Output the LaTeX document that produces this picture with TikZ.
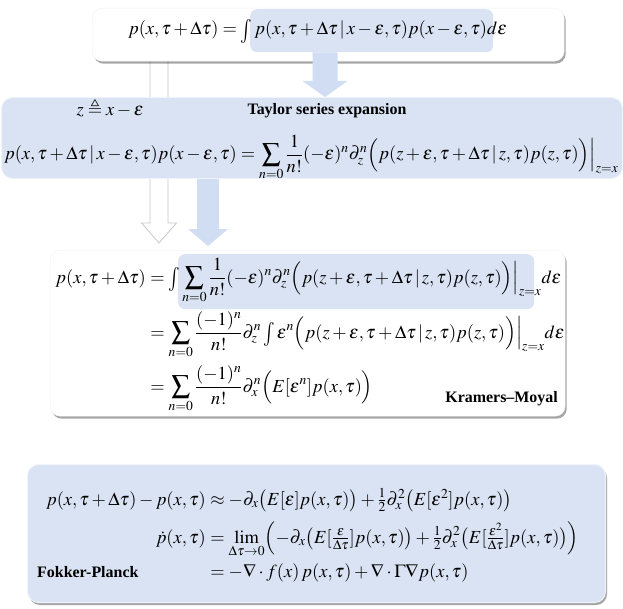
\documentclass[tikz,border=0pt]{standalone}
\usepackage{amsmath,amssymb}
\usepackage{mathptmx}
\usepackage[no-math]{fontspec}
\setmainfont{Liberation Serif}
\usetikzlibrary{calc,shadows}
\newcommand{\myint}{\mathop{\raisebox{-0.12em}{\scalebox{1.05}[1.3]{$\int$}}}\nolimits}
\definecolor{boxblue}{RGB}{218,227,243}
\definecolor{arrowblue}{RGB}{208,221,242}
\definecolor{rimgray}{RGB}{200,200,200}
\tikzset{
  whitebox/.style={rounded corners=10bp, fill=white, draw=gray!12, inner sep=0,
    drop shadow={shadow xshift=1.5bp, shadow yshift=-2.5bp, opacity=0.35, fill=black}},
  bluebox/.style={rounded corners=11bp, fill=boxblue, draw=white!60!boxblue, line width=1bp, inner sep=0},
  blueshadowbox/.style={bluebox, drop shadow={shadow xshift=1.5bp, shadow yshift=-2.5bp, opacity=0.35, fill=black}},
  hlbox/.style={rounded corners=7bp, fill=boxblue, inner sep=0},
  eq/.style={inner sep=0, font=\fontsize{18.5}{22}\selectfont},
  lbl/.style={inner sep=0, font=\fontsize{16}{19}\selectfont\bfseries},
  hollow/.style={draw=rimgray, fill=white, line width=0.8bp, line join=miter},
  solidarrow/.style={fill=arrowblue, draw=none},
}
\begin{document}
\begin{tikzpicture}[x=1bp,y=-1bp]
\useasboundingbox (0,0) rectangle (623,609);
% hollow arrow (behind boxes)
\coordinate (wa) at (159,61);
\coordinate (wb) at (159,243);
\draw[hollow] ($(wa)+(-9,0)$) -- ($(wb)+(-9,-20)$) -- ($(wb)+(-17.5,-20)$) -- (wb)
   -- ($(wb)+(17.5,-20)$) -- ($(wb)+(9,-20)$) -- ($(wa)+(9,0)$);
% top box
\node[whitebox, anchor=north west, minimum width=472bp, minimum height=53bp] (top) at (92,8) {};
\node[hlbox, anchor=north west, minimum width=243bp, minimum height=43bp] (hl1) at (250,9) {};
\node[eq, anchor=base west] (e0) at (128,35)
  {$p(x,\tau+\Delta\tau)=\myint p(x,\tau+\Delta\tau\,|\,x-\varepsilon,\tau)p(x-\varepsilon,\tau)d\varepsilon$};
% Taylor box
\node[bluebox, anchor=north west, minimum width=621bp, minimum height=81bp] (tay) at (1,97) {};
% blue arrow 1
\coordinate (ba) at (hl1.south -| 325,0);
\coordinate (bb) at (tay.north -| 325,0);
\fill[solidarrow] ($(ba)+(-12.5,0)$) -- ($(bb)+(-12.5,-16)$) -- ($(bb)+(-22.5,-16)$) -- (bb)
   -- ($(bb)+(22.5,-16)$) -- ($(bb)+(12.5,-16)$) -- ($(ba)+(12.5,0)$) -- cycle;
\node[eq, anchor=base] (tz) at (110,116) {$z\triangleq x-\varepsilon$};
\node[lbl, anchor=base] (tt) at (327,115) {Taylor series expansion};
\node[eq, anchor=base west] (te) at (4,160)
  {$\displaystyle p(x,\tau+\Delta\tau\,|\,x-\varepsilon,\tau)p(x-\varepsilon,\tau)=\sum_{n=0}\frac{1}{n!}(-\varepsilon)^n\partial_z^n\Bigl(p(z+\varepsilon,\tau+\Delta\tau\,|\,z,\tau)p(z,\tau)\Bigr)\Big|_{z=x}$};
% blue arrow 2
\coordinate (ca) at (tay.south -| 208,0);
\coordinate (cb) at (208,246);
\fill[solidarrow] ($(ca)+(-11,0)$) -- ($(cb)+(-11,-17)$) -- ($(cb)+(-20,-17)$) -- (cb)
   -- ($(cb)+(20,-17)$) -- ($(cb)+(11,-17)$) -- ($(ca)+(11,0)$) -- cycle;
% Kramers-Moyal box
\node[whitebox, anchor=north west, minimum width=515bp, minimum height=166bp] (km) at (50,250) {};
\node[hlbox, anchor=north west, minimum width=356bp, minimum height=55bp] (hl2) at (178,254) {};
\node[eq, anchor=base east] (k1l) at (146,283) {$p(x,\tau+\Delta\tau)$};
\node[eq, anchor=base west] (k1r) at (146,283)
  {$\displaystyle {}=\myint\sum_{n=0}\frac{1}{n!}(-\varepsilon)^n\partial_z^n\Bigl(p(z+\varepsilon,\tau+\Delta\tau\,|\,z,\tau)p(z,\tau)\Bigr)\Big|_{z=x}d\varepsilon$};
\node[eq, anchor=base west] (k2r) at (146,338)
  {$\displaystyle {}=\sum_{n=0}\frac{(-1)^n}{n!}\partial_z^n\myint\varepsilon^n\Bigl(p(z+\varepsilon,\tau+\Delta\tau\,|\,z,\tau)p(z,\tau)\Bigr)\Big|_{z=x}d\varepsilon$};
\node[eq, anchor=base west] (k3r) at (146,392)
  {$\displaystyle {}=\sum_{n=0}\frac{(-1)^n}{n!}\partial_x^n\Bigl(E[\varepsilon^n]p(x,\tau)\Bigr)$};
\node[lbl, anchor=base east] (kml) at (558,402) {Kramers–Moyal};
% Fokker-Planck box
\node[blueshadowbox, anchor=north west, minimum width=578bp, minimum height=138bp] (fp) at (27,464) {};
\node[eq, anchor=base east] (f1l) at (206,505) {$p(x,\tau+\Delta\tau)-p(x,\tau)$};
\node[eq, anchor=base west] (f1r) at (206,505)
  {${}\approx-\partial_x\bigl(E[\varepsilon]p(x,\tau)\bigr)+\tfrac12\partial_x^2\bigl(E[\varepsilon^2]p(x,\tau)\bigr)$};
\node[eq, anchor=base east] (f2l) at (206,543) {$\dot p(x,\tau)$};
\node[eq, anchor=base west] (f2r) at (206,543)
  {$\displaystyle{}=\lim_{\Delta\tau\to0}\Bigl(-\partial_x\bigl(E[\tfrac{\varepsilon}{\Delta\tau}]p(x,\tau)\bigr)+\tfrac12\partial_x^2\bigl(E[\tfrac{\varepsilon^2}{\Delta\tau}]p(x,\tau)\bigr)\Bigr)$};
\node[eq, anchor=base west] (f3r) at (206,577)
  {${}=-\nabla\cdot f(x)\,p(x,\tau)+\nabla\cdot\Gamma\nabla p(x,\tau)$};
\node[lbl, anchor=base west] (fpl) at (37,577) {Fokker-Planck};
\end{tikzpicture}
\end{document}
